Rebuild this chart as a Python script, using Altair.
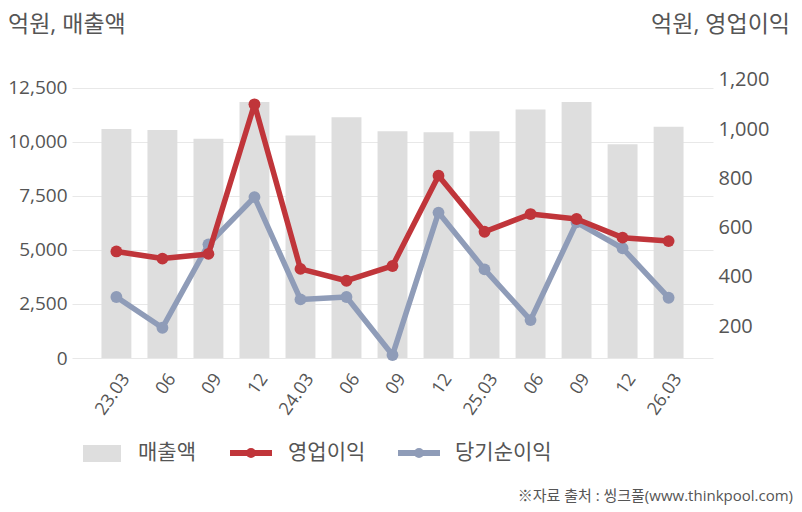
import altair as alt
import pandas as pd

periods = ["23.03", "23.06", "23.09", "23.12", "24.03", "24.06", "24.09",
           "24.12", "25.03", "25.06", "25.09", "25.12", "26.03"]
x_labels = ["23.03", "06", "09", "12", "24.03", "06", "09",
            "12", "25.03", "06", "09", "12", "26.03"]
sales = [10600, 10550, 10150, 11850, 10300, 11150, 10500,
         10450, 10500, 11500, 11850, 9900, 10700]
op_profit = [503, 474, 493, 1101, 432, 384, 444,
             811, 583, 655, 635, 559, 545]
net_profit = [318, 193, 532, 724, 308, 318, 82,
              661, 430, 224, 621, 516, 315]

left_ticks = [0, 2500, 5000, 7500, 10000, 12500]
right_ticks = [200, 400, 600, 800, 1000, 1200]

df = pd.DataFrame({"period": periods, "label": x_labels, "sales": sales,
                   "op": op_profit, "net": net_profit})

FONT = "Open Sans, Noto Sans CJK KR"
TXT = "#555555"
RED = "#C0353A"
BLUE = "#8F9CB8"
GRAY = "#DEDEDE"

x_scale = alt.Scale(paddingInner=0.35, paddingOuter=0.64)
x_enc = alt.X("period:N", sort=periods, title=None, scale=x_scale,
              axis=alt.Axis(labels=False, ticks=False, domain=True,
                            domainColor="#BBBBBB", domainWidth=1.5, grid=False))

bars = alt.Chart(df).mark_bar(color=GRAY).encode(
    x=x_enc,
    y=alt.Y("sales:Q", title=None,
            scale=alt.Scale(domain=[0, 13055], nice=False, zero=True),
            axis=alt.Axis(values=left_ticks, format=",.0f", labelFontSize=19,
                          labelColor=TXT, labelFont=FONT, labelPadding=5,
                          ticks=False, domain=False, grid=True,
                          gridColor="#E8E8E8", gridWidth=1)),
)

yr_scale = alt.Scale(domain=[70, 1216], nice=False, zero=False)
xl = alt.X("period:N", sort=periods, scale=x_scale, axis=None)

LW = 5.5
PS = 140
net_line = alt.Chart(df).mark_line(color=BLUE, strokeWidth=LW, strokeJoin="round", strokeCap="round").encode(
    x=xl,
    y=alt.Y("net:Q", title=None, scale=yr_scale,
            axis=alt.Axis(orient="right", values=right_ticks, format=",.0f",
                          labelFontSize=20, labelColor=TXT, labelFont=FONT,
                          labelPadding=5, ticks=False, domain=False, grid=False)),
)
net_pts = alt.Chart(df).mark_circle(color=BLUE, size=PS, opacity=1).encode(
    x=xl, y=alt.Y("net:Q", scale=yr_scale),
)
op_line = alt.Chart(df).mark_line(color=RED, strokeWidth=LW, strokeJoin="round", strokeCap="round").encode(
    x=xl, y=alt.Y("op:Q", scale=yr_scale),
)
op_pts = alt.Chart(df).mark_circle(color=RED, size=PS, opacity=1).encode(
    x=xl, y=alt.Y("op:Q", scale=yr_scale),
)

# rotated category labels under the axis
xlab = alt.Chart(df).mark_text(
    angle=305, align="right", baseline="middle", dy=12,
    fontSize=18, font=FONT, color=TXT
).encode(x=xl, y=alt.value(293), text="label:N")

# annotations (titles, legend, source)
def txt(s, x, y, size, align="left", color=TXT):
    return alt.Chart(pd.DataFrame({"t": [s]})).mark_text(
        align=align, baseline="middle", fontSize=size, font=FONT, color=color
    ).encode(text="t:N", x=alt.value(x), y=alt.value(y))

one = pd.DataFrame({"a": [0]})
leg_rect = alt.Chart(one).mark_rect(color=GRAY).encode(
    x=alt.value(11), x2=alt.value(49), y=alt.value(369), y2=alt.value(386))
leg_red = alt.Chart(one).mark_rule(color=RED, strokeWidth=6).encode(
    x=alt.value(158), x2=alt.value(200), y=alt.value(377))
leg_red_pt = alt.Chart(one).mark_circle(color=RED, size=100, opacity=1).encode(
    x=alt.value(179), y=alt.value(377))
leg_blue = alt.Chart(one).mark_rule(color=BLUE, strokeWidth=6).encode(
    x=alt.value(326), x2=alt.value(368), y=alt.value(377))
leg_blue_pt = alt.Chart(one).mark_circle(color=BLUE, size=100, opacity=1).encode(
    x=alt.value(347), y=alt.value(377))

lines = alt.layer(
    net_line, net_pts, op_line, op_pts, xlab,
    txt("억원, 매출액", -64, -51, 23),
    txt("억원, 영업이익", 718, -51, 23, align="right"),
    leg_rect, txt("매출액", 66, 377, 21),
    leg_red, leg_red_pt, txt("영업이익", 216, 377, 21),
    leg_blue, leg_blue_pt, txt("당기순이익", 383, 377, 21),
    txt("※자료 출처 : 씽크풀(www.thinkpool.com)", 721, 420, 15, align="right"),
)

chart = alt.layer(bars, lines).resolve_scale(y="independent").properties(
    width=641, height=282,
    background="white",
    autosize=alt.AutoSizeParams(type="none"),
    padding={"left": 64, "top": 68, "right": 81, "bottom": 150},
).configure_view(strokeWidth=0, stroke="transparent")

chart.save("out.html", embed_options={"renderer": "svg", "actions": False})
